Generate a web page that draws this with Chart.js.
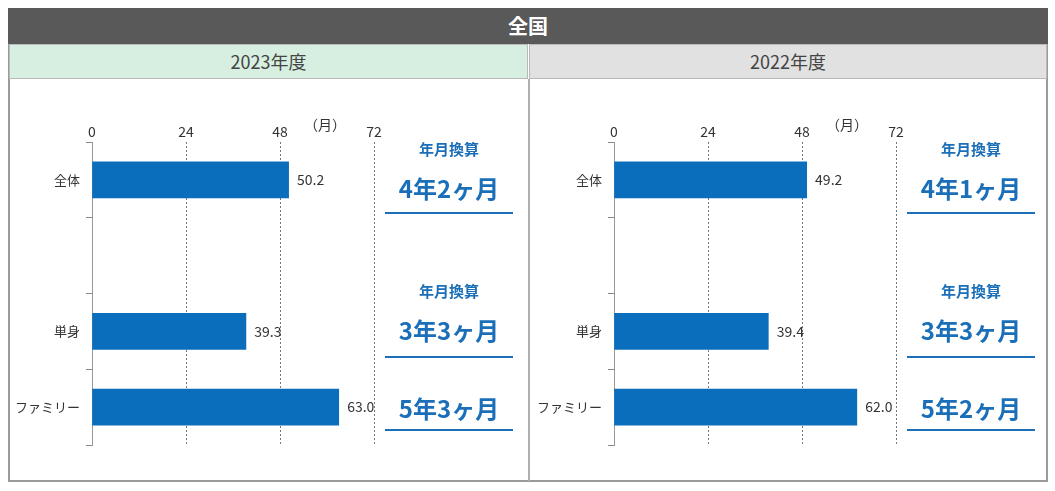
<!DOCTYPE html><html><head><meta charset="utf-8">
<script src="https://cdn.jsdelivr.net/npm/chart.js@4/dist/chart.umd.min.js"></script>
<style>
body{margin:0;background:#fff;font-family:"Noto Sans CJK JP",sans-serif;}
.abs{position:absolute;}
.box{position:absolute;box-sizing:border-box;}
.lab{position:absolute;color:#1a6fb8;text-align:center;width:128px;font-weight:bold;}
.small{font-size:15px;}
.big{font-size:24px;}
.line{position:absolute;height:2px;background:#1a6fb8;width:128px;}
</style></head><body>
<div class="box" style="left:8px;top:8px;width:1040px;height:474px;border:2px solid #9a9a9a;"></div>
<div class="box" style="left:8px;top:8px;width:1040px;height:36px;background:#595959;color:#fff;font-size:20px;font-weight:bold;text-align:center;line-height:36px;">全国</div>
<div class="box" style="left:9px;top:44px;width:519px;height:35px;background:#d6efe1;border:1px solid #b9b9b9;color:#444;font-size:18px;text-align:center;line-height:33px;">2023年度</div>
<div class="box" style="left:529px;top:44px;width:518px;height:35px;background:#e1e1e1;border:1px solid #b9b9b9;color:#444;font-size:18px;text-align:center;line-height:33px;">2022年度</div>
<div class="box" style="left:528px;top:79px;width:2px;height:402px;background:#b0b0b0;"></div>
<canvas id="c1" class="abs" style="left:8px;top:80px;"></canvas>
<canvas id="c2" class="abs" style="left:530px;top:80px;"></canvas>
<div id="ann"></div>
<script>
const categories=["全体","","単身","ファミリー"];
const values2023=[50.2,null,39.3,63.0];
const values2022=[49.2,null,39.4,62.0];
const xTicks=[0,24,48,72];
const conv2023=["4年2ヶ月","3年3ヶ月","5年3ヶ月"];
const conv2022=["4年1ヶ月","3年3ヶ月","5年2ヶ月"];
const convLabel="年月換算";
const unitLabel="（月）";

const labelPlugin={id:'lbl',afterDatasetsDraw(ch){
 const ctx=ch.ctx,meta=ch.getDatasetMeta(0);
 ctx.save();ctx.font='14px "Noto Sans CJK JP"';ctx.fillStyle='#333';ctx.textBaseline='middle';ctx.textAlign='center';
 meta.data.forEach((b,i)=>{const v=ch.data.datasets[0].data[i];if(v==null)return;ctx.fillText(v.toFixed(1),b.x+22,b.y);});
 const xs=ch.scales.x;ctx.fillText(unitLabel,xs.getPixelForValue(60)-2,45);
 ctx.restore();}};
function mk(id,data){
 const cv=document.getElementById(id);cv.width=400;cv.height=400;cv.style.width='400px';cv.style.height='400px';
 new Chart(cv,{type:'bar',data:{labels:categories,datasets:[{data:data,backgroundColor:'#0a6ebd',barThickness:36}]},
 options:{indexAxis:'y',responsive:false,animation:false,layout:{padding:{right:34,bottom:35}},
 plugins:{legend:{display:false},tooltip:{enabled:false}},
 scales:{x:{position:'top',min:0,max:72,afterBuildTicks:a=>{a.ticks=xTicks.map(v=>({value:v}));},
  ticks:{color:'#333',font:{size:14,family:'Noto Sans CJK JP'},padding:2},
  grid:{color:'#777',lineWidth:1,drawTicks:false,tickBorderDash:[2,2]},border:{display:false,dash:[2,2]},afterFit:s=>{s.height=62;}},
 y:{ticks:{color:'#333',font:{size:13,family:'Noto Sans CJK JP'},padding:6},grid:{offset:true,drawOnChartArea:false,tickLength:6,color:'#888'},border:{color:'#999'},afterFit:s=>{s.width=84;}}}},
 plugins:[labelPlugin]});
}
mk('c1',values2023);mk('c2',values2022);
// dotted grid: draw via grid borderDash
Chart.helpers;
const ann=document.getElementById('ann');
function addAnn(x0,conv){
 const ys=[[138,170,212],[280,312,356],[null,390,429]];
 ys.forEach((y,i)=>{
  if(y[0]!=null)ann.insertAdjacentHTML('beforeend',`<div class="lab small" style="left:${x0}px;top:${y[0]}px">${convLabel}</div>`);
  ann.insertAdjacentHTML('beforeend',`<div class="lab big" style="left:${x0}px;top:${y[1]}px">${conv[i]}</div><div class="line" style="left:${x0}px;top:${y[2]}px"></div>`);
 });
}
addAnn(385,conv2023);addAnn(907,conv2022);
</script></body></html>
